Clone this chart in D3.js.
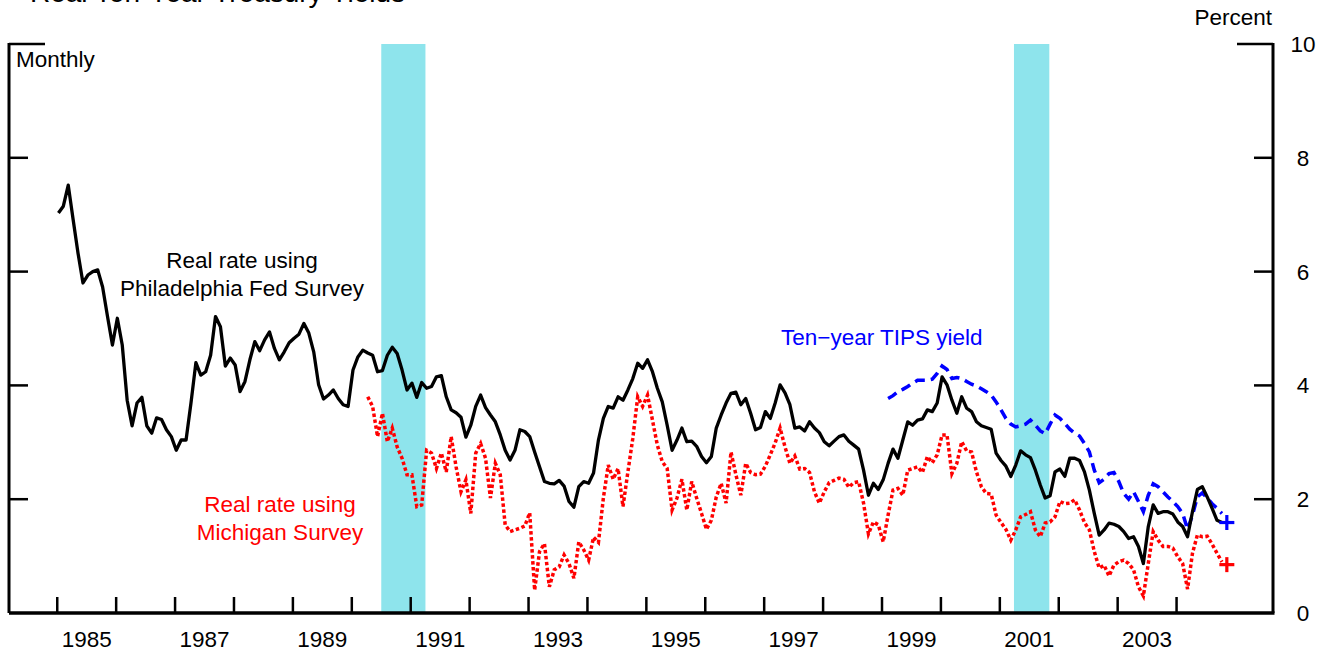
<!DOCTYPE html>
<html>
<head>
<meta charset="utf-8">
<script src="https://cdn.jsdelivr.net/npm/d3@7"></script>
<style>
  html, body { margin: 0; padding: 0; background: #fff; }
  svg { display: block; }
  text { font-family: "Liberation Sans", Arial, sans-serif; }
</style>
</head>
<body>
<svg id="chart" width="1331" height="654"></svg>
<script>
// ---------------- DATA ----------------
// Real rate using Philadelphia Fed Survey, monthly from Jan 1985
const philStart = [1985, 1];
const philValues = [
  7.03, 7.15, 7.52, 6.91, 6.32, 5.80, 5.94, 6.00, 6.03, 5.73, 5.21, 4.71,
  5.18, 4.71, 3.74, 3.29, 3.69, 3.79, 3.29, 3.16, 3.43, 3.40, 3.22, 3.10,
  2.86, 3.04, 3.04, 3.69, 4.40, 4.18, 4.24, 4.53, 5.21, 5.03, 4.34, 4.48,
  4.36, 3.89, 4.07, 4.45, 4.77, 4.61, 4.80, 4.94, 4.65, 4.45, 4.59, 4.75,
  4.83, 4.90, 5.09, 4.92, 4.59, 4.01, 3.76, 3.83, 3.92, 3.77, 3.66, 3.63,
  4.27, 4.50, 4.62, 4.57, 4.53, 4.24, 4.26, 4.53, 4.67, 4.56, 4.27, 3.92,
  4.04, 3.79, 4.05, 3.95, 3.98, 4.15, 4.17, 3.80, 3.57, 3.52, 3.44, 3.09,
  3.30, 3.63, 3.83, 3.61, 3.48, 3.36, 3.13, 2.86, 2.69, 2.86, 3.22, 3.19,
  3.10, 2.83, 2.57, 2.31, 2.28, 2.27, 2.33, 2.23, 1.96, 1.86, 2.22, 2.31,
  2.28, 2.46, 3.04, 3.42, 3.63, 3.60, 3.80, 3.74, 3.92, 4.12, 4.39, 4.30,
  4.45, 4.24, 3.95, 3.71, 3.30, 2.86, 3.04, 3.25, 3.01, 3.02, 2.93, 2.75,
  2.64, 2.75, 3.25, 3.48, 3.69, 3.86, 3.88, 3.66, 3.77, 3.51, 3.22, 3.26,
  3.54, 3.42, 3.69, 4.01, 3.87, 3.66, 3.25, 3.27, 3.20, 3.36, 3.25, 3.17,
  3.01, 2.94, 3.02, 3.10, 3.13, 3.02, 2.95, 2.88, 2.51, 2.07, 2.28, 2.17,
  2.34, 2.63, 2.88, 2.72, 3.04, 3.36, 3.30, 3.39, 3.41, 3.57, 3.54, 3.69,
  4.15, 4.01, 3.74, 3.51, 3.80, 3.60, 3.54, 3.36, 3.29, 3.26, 3.23, 2.81,
  2.68, 2.58, 2.40, 2.60, 2.85, 2.78, 2.73, 2.51, 2.25, 2.02, 2.06, 2.48,
  2.53, 2.40, 2.72, 2.72, 2.68, 2.48, 2.16, 1.75, 1.37, 1.46, 1.58, 1.56,
  1.52, 1.43, 1.31, 1.34, 1.17, 0.87, 1.52, 1.90, 1.75, 1.78, 1.78, 1.74,
  1.60, 1.52, 1.34, 1.78, 2.17, 2.22, 2.04, 1.84, 1.63, 1.59
];

// Real rate using Michigan Survey, monthly from Apr 1990
const michStart = [1990, 4];
const michValues = [
  3.80, 3.63, 3.10, 3.51, 3.01, 3.25, 2.92, 2.72, 2.43,
  2.43, 1.87, 1.90, 2.86, 2.81, 2.54, 2.81, 2.48, 3.10, 2.57, 2.13, 2.34,
  1.75, 2.81, 2.98, 2.72, 2.02, 2.63, 2.43, 1.55, 1.43, 1.46, 1.49, 1.53,
  1.76, 0.40, 1.08, 1.22, 0.46, 0.76, 0.81, 1.02, 0.87, 0.61, 1.25, 1.11,
  0.93, 1.33, 1.24, 2.02, 2.60, 2.35, 2.54, 1.87, 2.48, 3.07, 3.80, 3.63,
  3.83, 3.39, 2.95, 2.66, 2.54, 1.81, 2.02, 2.35, 1.81, 2.31, 2.02, 1.75,
  1.47, 1.63, 2.04, 2.28, 1.93, 2.83, 2.43, 2.07, 2.63, 2.47, 2.43, 2.44,
  2.58, 2.78, 2.99, 3.25, 2.92, 2.63, 2.76, 2.53, 2.54, 2.47, 2.13, 1.93,
  2.13, 2.29, 2.33, 2.37, 2.35, 2.21, 2.29, 2.31, 1.93, 1.39, 1.60, 1.55,
  1.25, 1.72, 2.16, 2.19, 2.07, 2.51, 2.54, 2.57, 2.47, 2.75, 2.64, 2.78,
  3.13, 3.13, 2.45, 2.63, 3.01, 2.85, 2.83, 2.48, 2.22, 2.10, 2.09, 1.72,
  1.59, 1.47, 1.28, 1.46, 1.69, 1.73, 1.78, 1.46, 1.34, 1.58, 1.60, 1.69,
  1.96, 1.92, 1.93, 1.99, 1.81, 1.59, 1.46, 1.08, 0.79, 0.84, 0.65, 0.84,
  0.90, 0.93, 0.87, 0.76, 0.46, 0.30, 0.87, 1.43, 1.28, 1.17, 1.17, 1.14,
  0.99, 0.87, 0.42, 1.05, 1.37, 1.34, 1.35, 1.21, 1.05, 0.90
];

// Ten-year TIPS yield, monthly from Feb 1999
const tipsStart = [1999, 2];
const tipsValues = [
  3.77, 3.82, 3.89, 3.93, 3.98, 4.04, 4.09, 4.09, 4.09, 4.11, 4.21,
  4.34, 4.28, 4.12, 4.14, 4.12, 4.07, 4.02, 3.99, 3.94, 3.89, 3.83,
  3.71, 3.57, 3.42, 3.32, 3.27, 3.29, 3.32, 3.39, 3.30, 3.20, 3.15,
  3.32, 3.48, 3.42, 3.33, 3.23, 3.16, 3.11, 2.98, 2.83, 2.51, 2.29,
  2.35, 2.45, 2.47, 2.31, 2.10, 2.00, 2.13, 1.96, 1.78, 2.07, 2.27,
  2.22, 2.13, 2.04, 1.96, 1.87, 1.75, 1.47, 1.72, 2.04, 2.11, 2.02,
  1.92, 1.84, 1.75
];

// Latest readings (plus markers)
const latestDate = [2004, 11];
const latestTips = 1.59;
const latestMich = 0.85;

// Recession periods (decimal years)
const recessions = [[1990.5, 1991.25], [2001.24, 2001.84]];

// Axis ticks / labels
const yearTicks = d3.range(1985, 2005);
const yearLabels = [1985, 1987, 1989, 1991, 1993, 1995, 1997, 1999, 2001, 2003];
const yTicks = [0, 2, 4, 6, 8, 10];

// ---------------- DRAW ----------------
(function () {
const svg = d3.select("#chart");
const W = 1331, H = 654;
const pLeft = 9, pRight = 1273, pTop = 44, pBottom = 613;

const x = d3.scaleLinear().domain([1984.181, 2005.637]).range([pLeft, pRight]);
const y = d3.scaleLinear().domain([0, 10]).range([pBottom, pTop]);

function toSeries(start, values) {
  return values.map((v, i) => ({ t: start[0] + (start[1] - 1 + i) / 12 + 0.02, v }));
}
const dateOf = d => d[0] + (d[1] - 1) / 12 + 0.02;

svg.append("rect").attr("width", W).attr("height", H).attr("fill", "#fff");

// Title (mostly cropped at top, as in the reference)
svg.append("text").attr("x", 30).attr("y", 1.5)
  .attr("font-size", 28).attr("fill", "#000")
  .text("Real Ten-Year Treasury Yields");

// Recession shading
svg.append("g").selectAll("rect").data(recessions).join("rect")
  .attr("x", d => x(d[0])).attr("width", d => x(d[1]) - x(d[0]))
  .attr("y", y(10)).attr("height", y(0) - y(10))
  .attr("fill", "#8ee4ec");

// Lines
const line = d3.line().x(d => x(d.t)).y(d => y(d.v));

svg.append("path").datum(toSeries(tipsStart, tipsValues))
  .attr("d", line).attr("fill", "none").attr("stroke", "#0000ff")
  .attr("stroke-width", 3.5).attr("stroke-dasharray", "10,6");

svg.append("path").datum(toSeries(michStart, michValues))
  .attr("d", line).attr("fill", "none").attr("stroke", "#ff0000")
  .attr("stroke-width", 3.5).attr("stroke-dasharray", "3.5,2.5");

svg.append("path").datum(toSeries(philStart, philValues))
  .attr("d", line).attr("fill", "none").attr("stroke", "#000")
  .attr("stroke-width", 3.3).attr("stroke-linejoin", "round");

// Plus markers
function drawPlus(val, color) {
  const cx = x(dateOf(latestDate)), cy = y(val), r = 7.5;
  const g = svg.append("g").attr("stroke", color).attr("stroke-width", 3.2);
  g.append("line").attr("x1", cx - r).attr("x2", cx + r).attr("y1", cy).attr("y2", cy);
  g.append("line").attr("x1", cx).attr("x2", cx).attr("y1", cy - r).attr("y2", cy + r);
}
drawPlus(latestTips, "#0000ff");
drawPlus(latestMich, "#ff0000");

// Axes frame
const axisG = svg.append("g").attr("stroke", "#000");
axisG.append("line").attr("x1", pLeft).attr("x2", pRight + 1.5).attr("y1", pBottom).attr("y2", pBottom).attr("stroke-width", 3.5);
axisG.append("line").attr("x1", pLeft).attr("x2", pLeft).attr("y1", pTop - 1).attr("y2", pBottom).attr("stroke-width", 3);
axisG.append("line").attr("x1", pRight).attr("x2", pRight).attr("y1", pTop - 1).attr("y2", pBottom).attr("stroke-width", 3);

yTicks.filter(t => t > 0).forEach(t => {
  const len = t === 10 ? 36 : 19;
  axisG.append("line").attr("x1", pLeft).attr("x2", pLeft + len).attr("y1", y(t)).attr("y2", y(t)).attr("stroke-width", 2.5);
  axisG.append("line").attr("x1", pRight - len).attr("x2", pRight).attr("y1", y(t)).attr("y2", y(t)).attr("stroke-width", 2.5);
});

svg.append("g").selectAll("line").data(yearTicks).join("line")
  .attr("x1", d => x(d)).attr("x2", d => x(d))
  .attr("y1", pBottom).attr("y2", pBottom - 16)
  .attr("stroke", "#000").attr("stroke-width", 2.5);

svg.append("g").selectAll("text").data(yearLabels).join("text")
  .attr("x", d => x(d + 0.5)).attr("y", 647)
  .attr("text-anchor", "middle").attr("font-size", 22.5).attr("fill", "#000")
  .text(d => d);

svg.append("g").selectAll("text").data(yTicks).join("text")
  .attr("x", 1303).attr("y", d => y(d) + 8)
  .attr("text-anchor", "middle").attr("font-size", 22.5).attr("fill", "#000")
  .text(d => d);

svg.append("text").attr("x", 1272).attr("y", 25).attr("text-anchor", "end")
  .attr("font-size", 22.5).attr("fill", "#000").text("Percent");

svg.append("text").attr("x", 16).attr("y", 67)
  .attr("font-size", 22.5).attr("fill", "#000").text("Monthly");

const lab = (lines, cx, y0, color, anchor) => {
  const t = svg.append("text").attr("font-size", 22.5).attr("fill", color).attr("text-anchor", anchor || "middle");
  lines.forEach((s, i) => t.append("tspan").attr("x", cx).attr("y", y0 + i * 28).text(s));
};
lab(["Real rate using", "Philadelphia Fed Survey"], 242, 268, "#000");
lab(["Real rate using", "Michigan Survey"], 280, 512, "#ff0000");
lab(["Ten\u2212year TIPS yield"], 781, 345, "#0000ff", "start");
})();
</script>
</body>
</html>
